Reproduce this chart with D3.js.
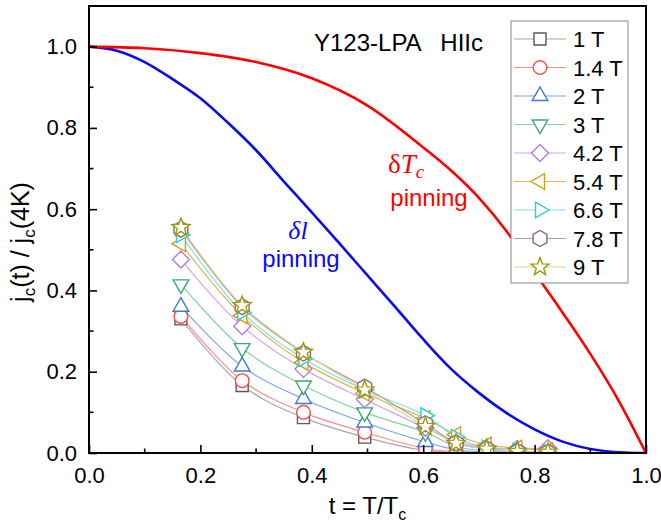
<!DOCTYPE html>
<html>
<head>
<meta charset="utf-8">
<script src="https://cdn.jsdelivr.net/npm/d3@7"></script>
<style>
  body { margin: 0; background: #fff; }
  svg { display: block; font-family: "Liberation Sans", Arial, sans-serif; }
</style>
</head>
<body>
<svg id="drawing_region"></svg>
<script>
// reduced temperature of the measured points
const tValues = [0.165, 0.275, 0.385, 0.495, 0.604, 0.659, 0.714, 0.769, 0.824];

// jc(t)/jc(4K) for each field
const jc1T   = [0.330, 0.166, 0.087, 0.039, 0.006, 0.002, 0.001, 0.000, 0.000];
const jc14T  = [0.336, 0.178, 0.100, 0.051, 0.011, 0.003, 0.001, 0.000, 0.000];
const jc2T   = [0.360, 0.213, 0.133, 0.075, 0.027, 0.008, 0.002, 0.001, 0.000];
const jc3T   = [0.415, 0.258, 0.166, 0.100, 0.051, 0.016, 0.005, 0.002, 0.001];
const jc42T  = [0.476, 0.312, 0.207, 0.132, 0.062, 0.028, 0.013, 0.010, 0.012];
const jc54T  = [0.515, 0.338, 0.223, 0.147, 0.085, 0.045, 0.020, 0.012, 0.006];
const jc66T  = [0.537, 0.346, 0.232, 0.155, 0.092, 0.039, 0.012, 0.005, 0.002];
const jc78T  = [0.551, 0.360, 0.246, 0.162, 0.072, 0.025, 0.010, 0.004, 0.002];
const jc9T   = [0.555, 0.363, 0.248, 0.155, 0.065, 0.024, 0.010, 0.004, 0.002];

const fieldLabels = ['1 T', '1.4 T', '2 T', '3 T', '4.2 T', '5.4 T', '6.6 T', '7.8 T', '9 T'];
const seriesValues = [jc1T, jc14T, jc2T, jc3T, jc42T, jc54T, jc66T, jc78T, jc9T];
const shapes = ['square', 'circle', 'up', 'down', 'diamond', 'left', 'right', 'hexagon', 'star'];
const symbolColors = ['#5a5a5a', '#ff4d4d', '#3c78d8', '#3aaa6a', '#b57be0', '#d4a017', '#25d0d0', '#8f6a6a', '#9a9a10'];
const lineColors   = ['#a8a8a8', '#ff8c8c', '#7aa6ea', '#86cfa2', '#cfa8ef', '#dcb850', '#7ee2e2', '#b29a9a', '#d4d49a'];

// delta-l pinning curve
const dlT = [0.0, 0.05, 0.1, 0.15, 0.2, 0.25, 0.3, 0.35, 0.4, 0.45, 0.5, 0.55, 0.6, 0.65, 0.7, 0.75, 0.8, 0.85, 0.9, 0.95, 1.0];
const dlJ = [1.0, 0.990, 0.962, 0.920, 0.873, 0.812, 0.745, 0.668, 0.592, 0.515, 0.437, 0.359, 0.280, 0.207, 0.148, 0.098, 0.058, 0.028, 0.010, 0.002, 0.0];

// delta-Tc pinning curve
const dTcT = [0.0, 0.1, 0.2, 0.3, 0.4, 0.5, 0.6, 0.65, 0.7, 0.75, 0.8, 0.85, 0.9, 0.95, 1.0];
const dTcJ = [1.0, 0.996, 0.984, 0.962, 0.922, 0.855, 0.752, 0.695, 0.628, 0.545, 0.444, 0.346, 0.244, 0.131, 0.0];

const xTicks = [0, 0.2, 0.4, 0.6, 0.8, 1.0];
const yTicks = [0, 0.2, 0.4, 0.6, 0.8, 1.0];

const config = {
    width: 661,
    height: 524,
    margin: {top: 6, right: 15, bottom: 71, left: 89}
};

const svg = d3.select('#drawing_region')
    .attr('width', config.width)
    .attr('height', config.height);

const inner_width = config.width - config.margin.left - config.margin.right;
const inner_height = config.height - config.margin.top - config.margin.bottom;

const chart = svg.append('g')
    .attr('transform', `translate(${config.margin.left}, ${config.margin.top})`);

const xscale = d3.scaleLinear().domain([0, 1]).range([0, inner_width]);
const yscale = d3.scaleLinear().domain([0, 1.1]).range([inner_height, 0]);

// marker outlines
function polygon(n, r, rot, inner) {
    const pts = [];
    const m = inner ? n * 2 : n;
    for (let i = 0; i < m; i++) {
        const rr = inner && i % 2 ? inner : r;
        const a = rot + i * 2 * Math.PI / m;
        pts.push([rr * Math.cos(a), rr * Math.sin(a)]);
    }
    return 'M' + pts.map(p => p[0].toFixed(2) + ',' + p[1].toFixed(2)).join('L') + 'Z';
}
function symbolPath(shape) {
    const up = -Math.PI / 2;
    switch (shape) {
        case 'square': return 'M-6,-6H6V6H-6Z';
        case 'circle': return 'M6.8,0A6.8,6.8 0 1,1 -6.8,0A6.8,6.8 0 1,1 6.8,0Z';
        case 'up': return polygon(3, 9, up);
        case 'down': return polygon(3, 9, Math.PI / 2);
        case 'diamond': return polygon(4, 8.5, up);
        case 'left': return polygon(3, 9, Math.PI);
        case 'right': return polygon(3, 9, 0);
        case 'hexagon': return polygon(6, 8, up);
        case 'star': return polygon(5, 9.5, up, 3.9);
    }
}

// clip region
svg.append('defs').append('clipPath').attr('id', 'plotclip')
    .append('rect').attr('width', inner_width).attr('height', inner_height);

const plot = chart.append('g').attr('clip-path', 'url(#plotclip)');

// series lines
const spline = d3.line()
    .x(d => xscale(d[0]))
    .y(d => yscale(d[1]))
    .curve(d3.curveCatmullRom);

seriesValues.forEach((vals, i) => {
    plot.append('path')
        .attr('d', spline(tValues.map((t, k) => [t, vals[k]])))
        .attr('fill', 'none')
        .attr('stroke', lineColors[i])
        .attr('stroke-width', 1.2);
});

// model curves
const smooth = d3.line()
    .x(d => xscale(d[0]))
    .y(d => yscale(d[1]))
    .curve(d3.curveMonotoneX);

plot.append('path')
    .attr('d', smooth(dlT.map((t, k) => [t, dlJ[k]])))
    .attr('fill', 'none')
    .attr('stroke', '#0a0af0')
    .attr('stroke-width', 2.6);

plot.append('path')
    .attr('d', smooth(dTcT.map((t, k) => [t, dTcJ[k]])))
    .attr('fill', 'none')
    .attr('stroke', '#ff0000')
    .attr('stroke-width', 2.6);

// markers
seriesValues.forEach((vals, i) => {
    plot.selectAll(null)
        .data(tValues.map((t, k) => [t, vals[k]]))
        .enter()
        .append('path')
        .attr('transform', d => `translate(${xscale(d[0])}, ${yscale(d[1])})`)
        .attr('d', symbolPath(shapes[i]))
        .attr('fill', '#fff')
        .attr('stroke', symbolColors[i])
        .attr('stroke-width', 1.4);
});

// axes
const xaxis = d3.axisBottom(xscale).tickValues(xTicks).tickFormat(d3.format('.1f'))
    .tickSize(-8).tickSizeOuter(0).tickPadding(14);
const yaxis = d3.axisLeft(yscale).tickValues(yTicks).tickFormat(d3.format('.1f'))
    .tickSize(-8).tickSizeOuter(0).tickPadding(12);

const xaxis_group = chart.append('g')
    .attr('transform', `translate(0, ${inner_height})`)
    .call(xaxis);
const yaxis_group = chart.append('g').call(yaxis);

[xaxis_group, yaxis_group].forEach(g => {
    g.select('.domain').remove();
    g.selectAll('line').attr('stroke', '#000').attr('stroke-width', 1.6);
    g.selectAll('text')
        .attr('font-size', '22px')
        .attr('font-family', '"Liberation Sans", Arial, sans-serif')
        .attr('fill', '#000');
});

// minor ticks
chart.selectAll('.xminor')
    .data([0.1, 0.3, 0.5, 0.7, 0.9])
    .enter().append('line')
    .attr('x1', d => xscale(d)).attr('x2', d => xscale(d))
    .attr('y1', inner_height).attr('y2', inner_height - 4.5)
    .attr('stroke', '#000').attr('stroke-width', 1.6);
chart.selectAll('.yminor')
    .data([0.1, 0.3, 0.5, 0.7, 0.9])
    .enter().append('line')
    .attr('y1', d => yscale(d)).attr('y2', d => yscale(d))
    .attr('x1', 0).attr('x2', 4.5)
    .attr('stroke', '#000').attr('stroke-width', 1.6);

// frame
chart.append('rect')
    .attr('width', inner_width)
    .attr('height', inner_height)
    .attr('fill', 'none')
    .attr('stroke', '#000')
    .attr('stroke-width', 2);

// axis labels
const xlab = svg.append('text')
    .attr('x', config.margin.left + inner_width / 2)
    .attr('y', 514)
    .attr('text-anchor', 'middle')
    .attr('font-size', '24px');
xlab.append('tspan').text('t = T/T');
xlab.append('tspan').attr('dy', 6).attr('font-size', '16px').text('c');

const ylab = svg.append('text')
    .attr('transform', `translate(29, 242) rotate(-90)`)
    .attr('text-anchor', 'middle')
    .attr('font-size', '25px');
ylab.append('tspan').text('j');
ylab.append('tspan').attr('dy', 6).attr('font-size', '17px').text('c');
ylab.append('tspan').attr('dy', -6).text('(t) / j');
ylab.append('tspan').attr('dy', 6).attr('font-size', '17px').text('c');
ylab.append('tspan').attr('dy', -6).text('(4K)');

// sample label
svg.append('text')
    .attr('x', 314)
    .attr('y', 51)
    .attr('font-size', '24px')
    .style('white-space', 'pre')
    .text('Y123-LPA   HIIc');

// curve annotations
svg.append('text')
    .attr('x', 298).attr('y', 239)
    .attr('text-anchor', 'middle')
    .attr('fill', '#0a0af0')
    .attr('font-family', '"Liberation Serif", "Times New Roman", serif')
    .attr('font-style', 'italic')
    .attr('font-size', '26px')
    .text('\u03B4l');
svg.append('text')
    .attr('x', 301).attr('y', 267)
    .attr('text-anchor', 'middle')
    .attr('fill', '#0a0af0')
    .attr('font-size', '24px')
    .text('pinning');

const redLab = svg.append('text')
    .attr('x', 388).attr('y', 173)
    .attr('fill', '#ff0000')
    .attr('font-family', '"Liberation Serif", "Times New Roman", serif')
    .attr('font-size', '27px');
redLab.append('tspan').text('\u03B4');
redLab.append('tspan').attr('font-style', 'italic').text('T');
redLab.append('tspan').attr('font-style', 'italic').attr('dy', 5).attr('font-size', '19px').text('c');
svg.append('text')
    .attr('x', 429).attr('y', 206)
    .attr('text-anchor', 'middle')
    .attr('fill', '#ff0000')
    .attr('font-size', '24px')
    .text('pinning');

// legend
const legend = svg.append('g');
legend.append('rect')
    .attr('x', 511).attr('y', 21)
    .attr('width', 117).attr('height', 262)
    .attr('fill', '#fff')
    .attr('stroke', '#888')
    .attr('stroke-width', 1);

fieldLabels.forEach((label, i) => {
    const cy = 39 + i * 28.5;
    legend.append('line')
        .attr('x1', 514).attr('x2', 566)
        .attr('y1', cy).attr('y2', cy)
        .attr('stroke', lineColors[i])
        .attr('stroke-width', 1.2);
    legend.append('path')
        .attr('transform', `translate(540, ${cy})`)
        .attr('d', symbolPath(shapes[i]))
        .attr('fill', '#fff')
        .attr('stroke', symbolColors[i])
        .attr('stroke-width', 1.4);
    legend.append('text')
        .attr('x', 573).attr('y', cy + 8)
        .attr('font-size', '22px')
        .text(label);
});
</script>
</body>
</html>
